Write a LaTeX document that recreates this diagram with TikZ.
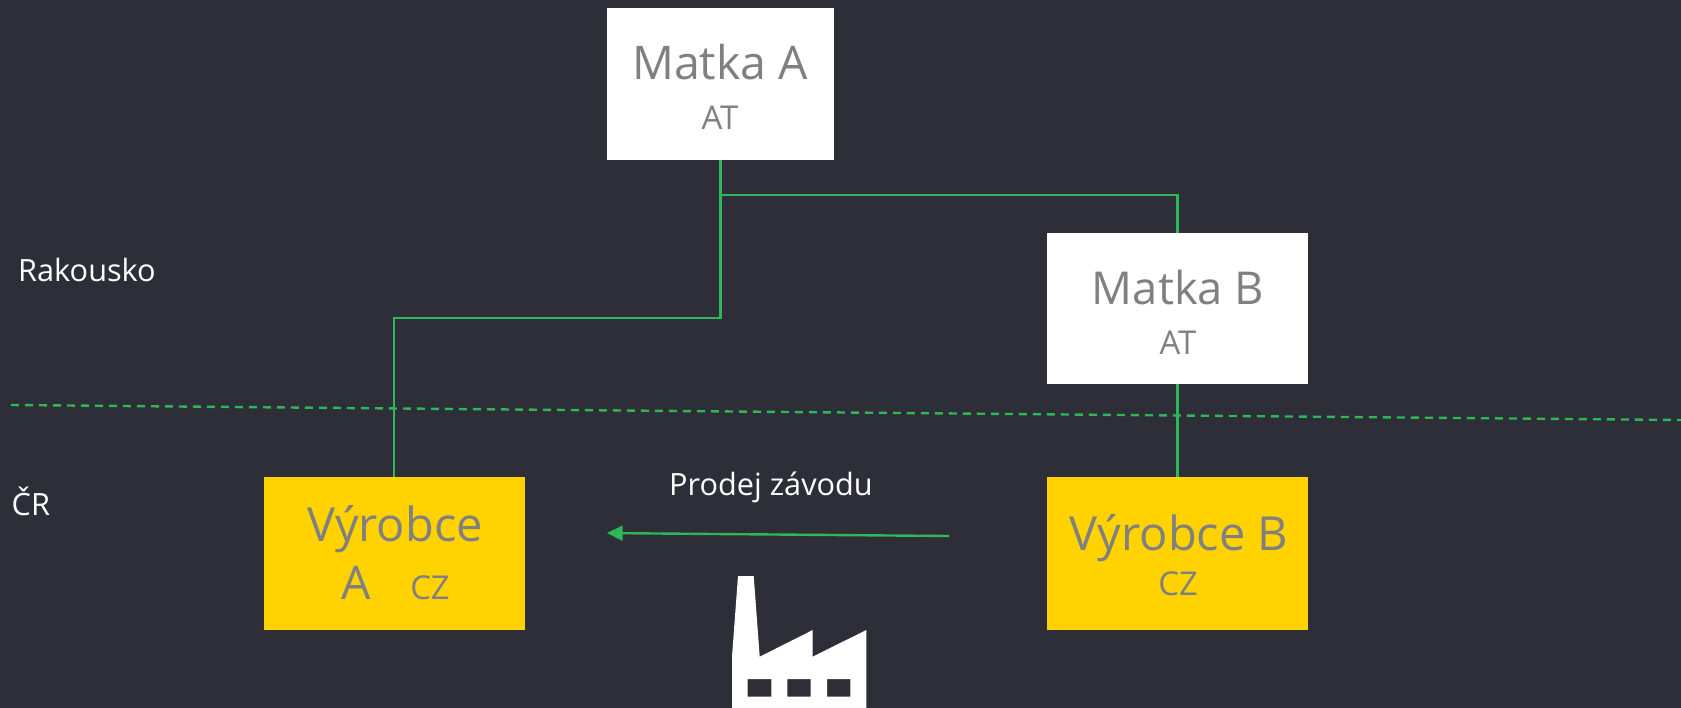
\documentclass[tikz,border=0pt]{standalone}
\usepackage{fontspec}
\setmainfont{Open Sans}
\definecolor{bg}{HTML}{2E2E38}
\definecolor{eygreen}{HTML}{2DB757}
\definecolor{eyyellow}{HTML}{FFD200}
\definecolor{txtgray}{HTML}{808080}
\newcommand{\bigT}{\fontsize{46.6}{56}\selectfont}
\newcommand{\bigV}{\fontsize{47.2}{56}\selectfont}
\newcommand{\bigM}{\fontsize{45.5}{56}\selectfont}
\newcommand{\smallT}{\fontsize{33}{40}\selectfont}
\tikzset{
  box/.style={fill=#1,draw=none,inner sep=0pt,outer sep=0pt,align=center,text=txtgray,anchor=north west},
  link/.style={draw=eygreen,line width=2.4bp},
  boxtext/.style={text=txtgray,inner sep=0pt,anchor=base},
  lab/.style={text=white,font=\fontsize{30.8}{36}\selectfont,inner sep=0pt},
}
\begin{document}
\begin{tikzpicture}[x=1bp,y=-1bp]
\fill[bg] (0,0) rectangle (1681,708);
\useasboundingbox (0,0) rectangle (1681,708);
% boxes
\node[box=white,minimum width=227bp,minimum height=152bp] (ma) at (607,8) {};
\node[boxtext,font=\bigT] (matext) at (720,80) {Matka A};
\node[boxtext,font=\smallT] (matsub) at (720,130) {AT};
\node[box=white,minimum width=261bp,minimum height=151bp] (mb) at (1047,233) {};
\node[boxtext,font=\bigM] (mbtext) at (1178,304) {Matka B};
\node[boxtext,font=\smallT] (mbsub) at (1178,354) {AT};
\node[box=eyyellow,minimum width=261bp,minimum height=153bp] (va) at (264,477) {};
\node[boxtext,font=\bigV] (vatext) at (395,541) {Výrobce};
\node[boxtext,font=\bigT] (vaa) at (356.5,599) {A};
\node[boxtext,font=\smallT] (vasub) at (430,599) {CZ};
\node[box=eyyellow,minimum width=261bp,minimum height=153bp] (vb) at (1047,477) {};
\node[boxtext,font=\bigV] (vbtext) at (1179,550) {Výrobce B};
\node[boxtext,font=\smallT] (vbsub) at (1178,595) {CZ};
% labels
\node[lab,anchor=base west] (rak) at (18,281) {Rakousko};
\node[lab,anchor=base west] (cr) at (11.5,515) {ČR};
\node[lab,anchor=base] (prodej) at (771,495) {Prodej závodu};
% connectors
\coordinate (j1) at (ma.south |- 0,195);
\coordinate (j2) at (ma.south |- 0,318);
\draw[link] (ma.south) -- (j2) -| ([xshift=-0.5bp]va.north);
\draw[link] (j1) -| (mb.north);
\draw[link] (mb.south) -- (vb.north);
\coordinate (dl) at (11,405);
\coordinate (dr) at (1681,420);
\draw[link,dash pattern=on 8bp off 6bp] (dl) -- (dr);
\coordinate (as) at (949,536);
\coordinate (ae) at (607,533);
\draw[link] (as) -- (622,533.2);
\fill[eygreen] (ae) -- (622.5,525.5) -- (622.5,541) -- cycle;
% factory
\fill[white,even odd rule] (732,708) -- (732,656.7) -- (738,576) -- (753.7,576) -- (759.7,656.7) -- (812.7,630) -- (812.7,656.7) -- (866.3,630) -- (866.3,708) -- cycle
 (747.7,679) rectangle (771.3,696.7)
 (787.3,679) rectangle (810.7,696.7)
 (827,679) rectangle (850.3,696.7);
\end{tikzpicture}
\end{document}
